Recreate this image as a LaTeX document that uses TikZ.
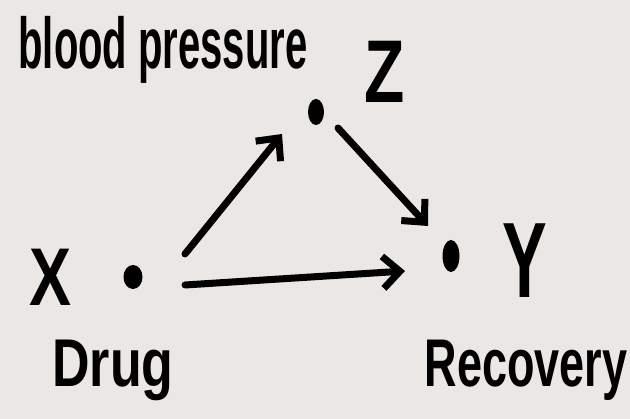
\documentclass[tikz,border=0pt]{standalone}
\usepackage{fontspec}
\setmainfont{Liberation Sans}
\usetikzlibrary{arrows.meta}
\definecolor{bg}{RGB}{235,231,228}
\begin{document}
\begin{tikzpicture}[x=1pt,y=-1pt,
  lbl/.style={inner sep=0pt,text=black},
  conn/.style={line width=7pt,line cap=round,line join=round,
    -{Straight Barb[length=17pt,width=32pt,line width=7pt]}}]
\fill[bg] (0,0) rectangle (630,419);
\useasboundingbox (0,0) rectangle (630,419);
% dots
\fill (133,277) ellipse [x radius=9.5,y radius=12];
\fill (316,112) ellipse [x radius=8,y radius=13];
\fill (451,256) ellipse [x radius=8.5,y radius=16];
\coordinate (x) at (133,277);
\coordinate (z) at (316,112);
\coordinate (y) at (451,256);
% labels
\node[lbl,font=\bfseries\fontsize{40}{44}\selectfont] (bp) at (163,50) {\scalebox{1}[1.8]{blood pressure}};
\node[lbl,font=\bfseries\fontsize{66}{70}\selectfont] (zl) at (385,72) {\scalebox{1}[1.35]{Z}};
\node[lbl,font=\bfseries\fontsize{63}{68}\selectfont] (xl) at (51,277) {\scalebox{1}[1.3]{X}};
\node[lbl,font=\bfseries\fontsize{67}{72}\selectfont] (yl) at (525,261) {\scalebox{1}[1.6]{Y}};
\node[lbl,font=\bfseries\fontsize{52}{56}\selectfont] (drug) at (113,370) {\scalebox{1}[1.3]{Drug}};
\node[lbl,font=\bfseries\fontsize{45}{50}\selectfont] (rec) at (526,370) {\scalebox{1}[1.5]{Recovery}};
% arrow ends
\coordinate (xz0) at (185,254);
\coordinate (xz1) at (282,134);
\coordinate (zy0) at (338,128);
\coordinate (zy1) at (428,226);
\coordinate (xy0) at (185,285);
\coordinate (xy1) at (405,271);
\draw[conn] (xz0) -- (xz1);
\draw[conn] (zy0) -- (zy1);
\draw[conn] (xy0) -- (xy1);
\end{tikzpicture}
\end{document}
